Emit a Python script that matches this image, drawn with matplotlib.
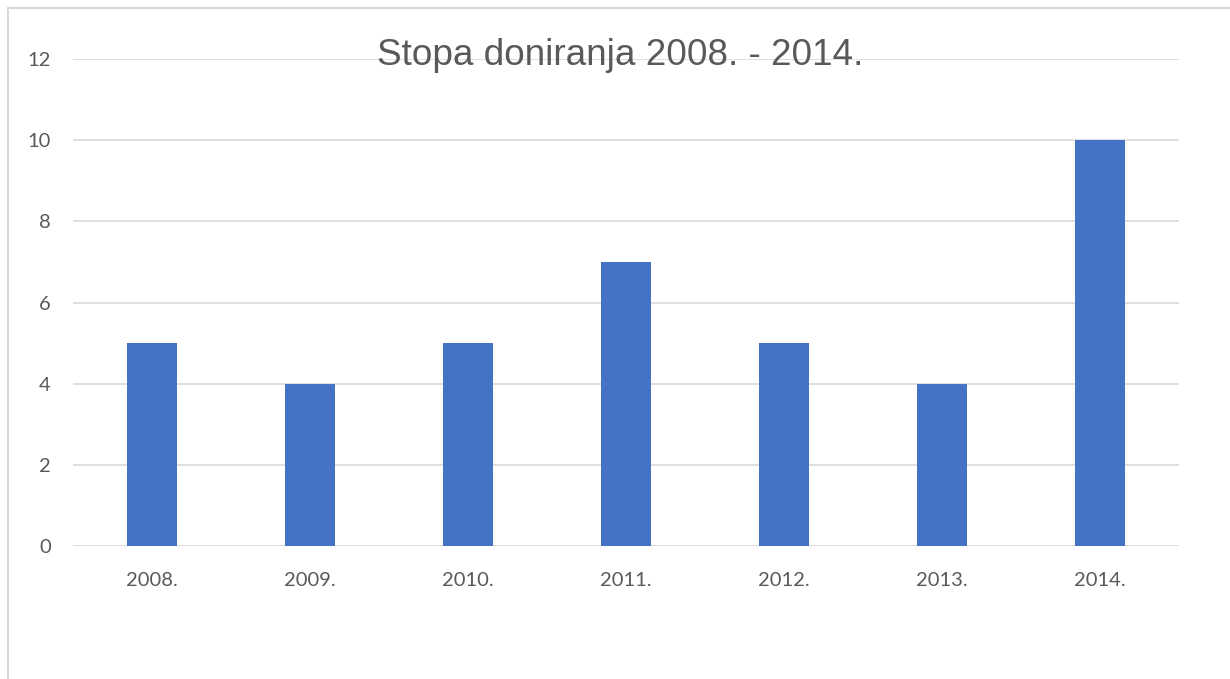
import matplotlib.pyplot as plt
from matplotlib.patches import Rectangle

years = ["2008.", "2009.", "2010.", "2011.", "2012.", "2013.", "2014."]
rates = [5, 4, 5, 7, 5, 4, 10]
y_ticks = [0, 2, 4, 6, 8, 10, 12]

W, H = 1230, 679
fig = plt.figure(figsize=(W / 100, H / 100), dpi=100)
fig.patch.set_facecolor("white")

# chart frame (only left and top edges visible in the crop)
fig.patches.append(Rectangle((8 / W, -0.1), 1.2, (H - 8) / H + 0.1,
                             transform=fig.transFigure, fill=False,
                             edgecolor="#d9d9d9", linewidth=1.5))

left, right = 73 / W, 1179 / W
bottom, top = 1 - 546 / H, 1 - 59 / H
ax = fig.add_axes([left, bottom, right - left, top - bottom])

x = range(len(years))
ax.bar(x, rates, width=0.316, color="#4472C4", zorder=3)
ax.set_xlim(-0.5, len(years) - 0.5)
ax.set_ylim(0, 12)
ax.set_yticks(y_ticks)
ax.set_xticks(list(x))
ax.set_xticklabels(years)

for s in ax.spines.values():
    s.set_visible(False)
ax.grid(axis="y", color="#d9d9d9", linewidth=1.2, zorder=0)
ax.tick_params(length=0, labelsize=14.5, labelcolor="#595959")
ax.tick_params(axis="y", pad=16)
ax.tick_params(axis="x", pad=18.5)
for lbl in ax.get_xticklabels() + ax.get_yticklabels():
    lbl.set_family("Lato")

fig.text(620 / W, 1 - 65 / H, "Stopa doniranja 2008. - 2014.",
         ha="center", va="baseline", fontsize=26.6, color="#595959",
         family="Liberation Sans", zorder=5)

fig.savefig("out.png", dpi=100, facecolor="white")
